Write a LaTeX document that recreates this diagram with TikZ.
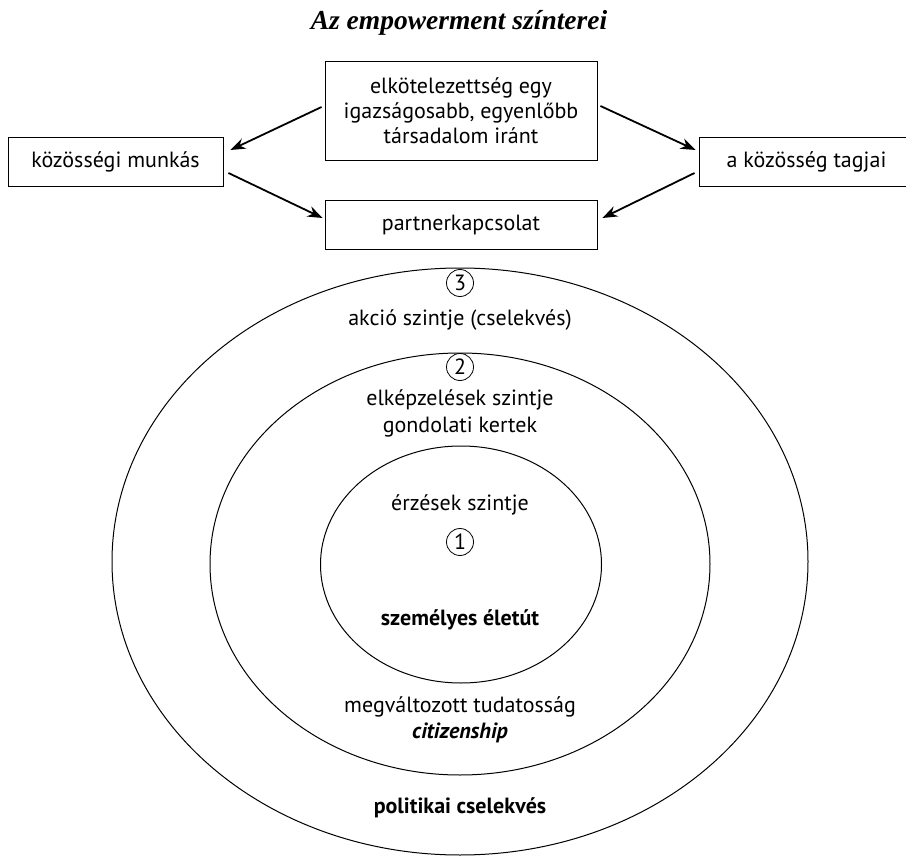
\documentclass[tikz,border=0pt]{standalone}
\usepackage{fontspec}
\setmainfont{PT Sans}
\newfontfamily\titlefont{Liberation Serif}
\usetikzlibrary{shapes.geometric,arrows.meta}
\begin{document}
\begin{tikzpicture}[x=1pt,y=-1pt,
  box/.style={draw, line width=0.9pt, inner sep=0pt, align=center, font=\fontsize{22}{25}\selectfont},
  arr/.style={line width=1.8pt, -{Stealth[length=15pt,width=11pt]}},
  ring/.style={draw, ellipse, line width=1pt, inner sep=0pt},
  lbl/.style={align=center, inner sep=0pt, font=\fontsize{22}{27}\selectfont},
  num/.style={draw, circle, line width=0.8pt, inner sep=0pt, minimum size=27pt, font=\fontsize{22}{22}\selectfont}]
\useasboundingbox (0,0) rectangle (906,856);
\clip (0,0) rectangle (906,856);
\node[inner sep=0pt, font=\titlefont\bfseries\itshape\fontsize{27.5}{30}\selectfont] (title) at (459,23) {Az empowerment színterei};
\node[box, minimum width=272pt, minimum height=99pt] (top) at (461,110.5) {elkötelezettség egy\\igazságosabb, egyenlőbb\\társadalom iránt};
\node[box, minimum width=215pt, minimum height=49pt] (left) at (115.5,161.5) {közösségi munkás};
\node[box, minimum width=215pt, minimum height=49pt] (right) at (806.5,161.5) {a közösség tagjai};
\node[box, minimum width=272pt, minimum height=49pt] (partner) at (461,224.5) {partnerkapcsolat};
\draw[arr] ([xshift=-3pt,yshift=3.5pt]top.west) -- ([xshift=7pt,yshift=11.5pt]left.east);
\draw[arr] ([xshift=5pt,yshift=-11.5pt]left.east) -- ([xshift=-2pt,yshift=6.5pt]partner.west);
\draw[arr] ([xshift=3pt,yshift=4.5pt]top.east) -- ([xshift=-3pt,yshift=11.5pt]right.west);
\draw[arr] ([xshift=-4pt,yshift=-11.5pt]right.west) -- ([xshift=5pt,yshift=6.5pt]partner.east);
\node[ring, minimum width=696pt, minimum height=587pt] (outer) at (460,561.5) {};
\node[ring, minimum width=500pt, minimum height=422pt] (middle) at (460,564) {};
\node[ring, minimum width=281pt, minimum height=237pt] (inner) at (461,564.5) {};
\node[num] (n3) at (460,283) {3};
\node[lbl] (akcio) at (460,320) {akció szintje (cselekvés)};
\node[num] (n2) at (460,367) {2};
\node[lbl] (elkep) at (460,413) {elképzelések szintje\\gondolati kertek};
\node[lbl] (erzes) at (460,505) {érzések szintje};
\node[num] (n1) at (460,542) {1};
\node[lbl, font=\bfseries\fontsize{22}{27}\selectfont] (szem) at (460,620) {személyes életút};
\node[lbl] (megv) at (460,707) {megváltozott tudatosság};
\node[lbl, font=\bfseries\itshape\fontsize{22}{27}\selectfont] (citi) at (460,733) {citizenship};
\node[lbl, font=\bfseries\fontsize{22}{27}\selectfont] (polit) at (460,808) {politikai cselekvés};
\end{tikzpicture}
\end{document}
